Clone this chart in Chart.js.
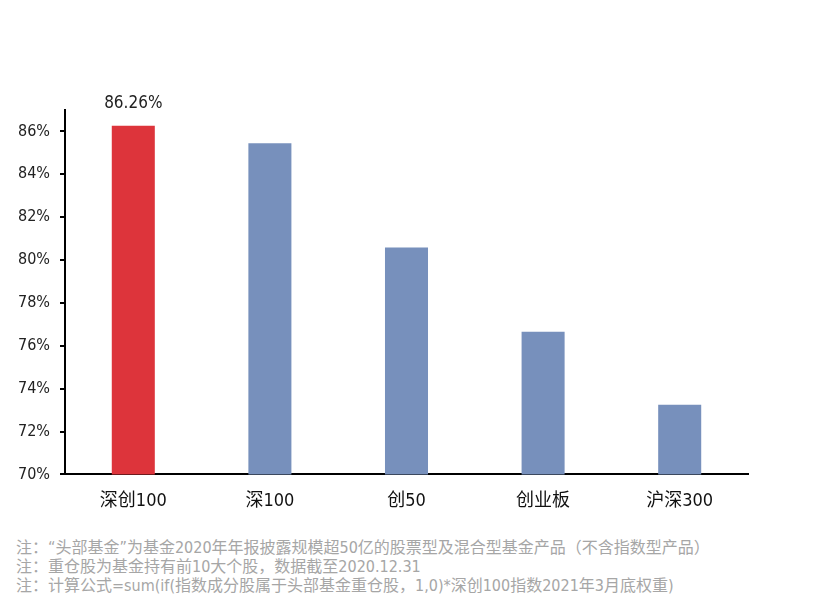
<!DOCTYPE html>
<html>
<head>
<meta charset="utf-8">
<script src="https://cdn.jsdelivr.net/npm/chart.js@4"></script>
<style>
  html, body { margin:0; padding:0; background:#fff; }
  #wrap { position:relative; width:830px; height:609px; }
  #c { position:absolute; left:0; top:0; }
  #notes { position:absolute; left:16px; top:538px; font-family:'Liberation Sans Narrow','DejaVu Sans Condensed','Noto Sans CJK SC',sans-serif; font-size:16px; line-height:19px; color:#a6a6a6; }
</style>
</head>
<body>
<div id="wrap">
  <canvas id="c" width="830" height="530"></canvas>
  <div id="notes"></div>
</div>
<script>
const categories = ['深创100', '深100', '创50', '创业板', '沪深300'];
const values = [86.26, 85.45, 80.58, 76.65, 73.25];
const barColors = ['#DD343B', '#7790BC', '#7790BC', '#7790BC', '#7790BC'];
const yTicks = [70, 72, 74, 76, 78, 80, 82, 84, 86];
const labelIndex = [0];
const notes = [
  '注：“头部基金”为基金2020年年报披露规模超50亿的股票型及混合型基金产品（不含指数型产品）',
  '注：重仓股为基金持有前10大个股，数据截至2020.12.31',
  '注：计算公式=sum(if(指数成分股属于头部基金重仓股，1,0)*深创100指数2021年3月底权重)'
];
document.getElementById('notes').innerHTML = notes.map(n => '<div>' + n + '</div>').join('');

const FONT = "'Liberation Sans Narrow','DejaVu Sans Condensed','Noto Sans CJK SC',sans-serif";

const valueLabels = {
  id: 'valueLabels',
  afterDatasetsDraw(chart) {
    const ctx = chart.ctx;
    const meta = chart.getDatasetMeta(0);
    ctx.save();
    ctx.font = '17px ' + FONT;
    ctx.fillStyle = '#222';
    ctx.textAlign = 'center';
    ctx.textBaseline = 'bottom';
    labelIndex.forEach(i => {
      const el = meta.data[i];
      ctx.fillText(values[i].toFixed(2) + '%', el.x, el.y - 14);
    });
    ctx.restore();
  }
};

new Chart(document.getElementById('c'), {
  type: 'bar',
  data: {
    labels: categories,
    datasets: [{
      data: values,
      backgroundColor: barColors,
      borderWidth: 0,
      barPercentage: 0.315,
      categoryPercentage: 1
    }]
  },
  options: {
    responsive: false,
    animation: false,
    layout: { padding: { top: 110, right: 82, left: 8, bottom: 2 } },
    plugins: { legend: { display: false }, tooltip: { enabled: false } },
    scales: {
      x: {
        grid: { display: false, drawTicks: false },
        border: { display: true, color: '#000', width: 2 },
        ticks: { color: '#111', font: { family: FONT, size: 18 }, padding: 16 }
      },
      y: {
        min: 70,
        max: 87,
        grid: { drawOnChartArea: false, drawTicks: true, tickLength: 5, color: '#000', lineWidth: 2 },
        border: { display: true, color: '#000', width: 2 },
        afterBuildTicks(scale) { scale.ticks = yTicks.map(v => ({ value: v })); },
        ticks: {
          color: '#222',
          font: { family: FONT, size: 16 },
          padding: 10,
          callback: v => v + '%'
        }
      }
    }
  },
  plugins: [valueLabels]
});
</script>
</body>
</html>
